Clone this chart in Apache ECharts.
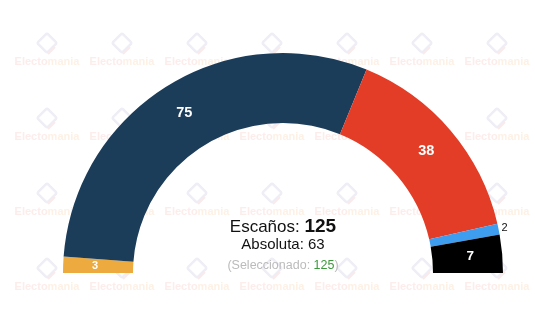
<!DOCTYPE html>
<html>
<head>
<meta charset="utf-8">
<script src="https://cdn.jsdelivr.net/npm/echarts@6/dist/echarts.min.js"></script>
<style>
html,body{margin:0;padding:0;background:#fff;}
#chart{width:535px;height:320px;}
</style>
</head>
<body>
<div id="chart"></div>
<script>
// Data
var parties = ['A', 'B', 'C', 'D', 'E'];
var seats = [3, 75, 38, 2, 7];
var colors = ['#EDAA3F', '#1C3D5A', '#E33C27', '#3F9DF0', '#000000'];
var labelSizes = [11, 14.5, 14.5, 11, 13.5];
var outsideLabel = [false, false, false, true, false];
var totalLabel = 'Escaños: ';
var absLabel = 'Absoluta: ';
var selLabel = 'Seleccionado: ';

var total = seats.reduce(function (a, b) { return a + b; }, 0);
var absoluta = Math.floor(total / 2) + 1;

var chart = echarts.init(document.getElementById('chart'), null, {renderer: 'canvas'});

// watermark tiles (decoration, below the chart)
var wm = [];
var wxs = [47, 122, 197, 272, 347, 422, 497];
var wys = [62, 137, 212, 287];
wys.forEach(function (y) {
  wxs.forEach(function (x) {
    wm.push({
      type: 'rect', zlevel: 0, z: 0, silent: true,
      x: x, y: y - 19, rotation: Math.PI / 4,
      shape: {x: -7, y: -7, width: 14, height: 14, r: 2},
      style: {fill: 'none', stroke: '#EFEDF5', lineWidth: 2.5}
    });
    wm.push({
      type: 'line', zlevel: 0, z: 0, silent: true,
      shape: {x1: x + 1, y1: y - 8, x2: x + 8, y2: y - 15},
      style: {stroke: '#FAEAEA', lineWidth: 2}
    });
    wm.push({
      type: 'text', zlevel: 0, z: 0, silent: true,
      x: x, y: y,
      style: {
        text: '{a|Electo}{b|mania}',
        align: 'center', verticalAlign: 'middle',
        rich: {
          a: {fill: '#FCEDEB', fontSize: 11, fontWeight: 'bold', fontFamily: 'Liberation Sans'},
          b: {fill: '#FDF1E6', fontSize: 11, fontWeight: 'bold', fontFamily: 'Liberation Sans'}
        }
      }
    });
  });
});

var data = seats.map(function (v, i) {
  var item = {
    name: parties[i], value: v,
    itemStyle: {color: colors[i]},
    label: {fontSize: labelSizes[i]}
  };
  if (outsideLabel[i]) {
    item.label = {
      position: 'outside', color: '#111', fontWeight: 'normal',
      fontSize: labelSizes[i], distanceToLabelLine: 0
    };
    item.labelLine = {show: false, length: 3, length2: 0};
  }
  return item;
});

chart.setOption({
  backgroundColor: '#ffffff',
  animation: false,
  series: [{
    type: 'pie',
    zlevel: 1,
    center: [283, 273],
    radius: [150, 220],
    startAngle: 180,
    endAngle: 0,
    clockwise: true,
    avoidLabelOverlap: false,
    silent: true,
    label: {
      show: true, position: 'inside',
      color: '#fff', fontWeight: 'bold',
      fontFamily: 'Liberation Sans',
      formatter: '{c}'
    },
    labelLine: {show: false},
    itemStyle: {borderWidth: 0},
    data: data
  }],
  graphic: wm.concat([
    {
      type: 'text', zlevel: 1, x: 283, y: 227,
      style: {
        text: '{n|' + totalLabel + '}{b|' + total + '}',
        align: 'center', verticalAlign: 'middle',
        rich: {
          n: {fill: '#111', fontSize: 17, fontFamily: 'Liberation Sans'},
          b: {fill: '#111', fontSize: 19, fontWeight: 'bold', fontFamily: 'Liberation Sans'}
        }
      }
    },
    {
      type: 'text', zlevel: 1, x: 283, y: 245,
      style: {
        text: absLabel + absoluta,
        align: 'center', verticalAlign: 'middle',
        fill: '#111', fontSize: 15, fontFamily: 'Liberation Sans'
      }
    },
    {
      type: 'text', zlevel: 1, x: 283, y: 266,
      style: {
        text: '{g|(' + selLabel + '}{v|' + total + '}{g|)}',
        align: 'center', verticalAlign: 'middle',
        rich: {
          g: {fill: '#BBBBBB', fontSize: 12.5, fontFamily: 'Liberation Sans'},
          v: {fill: '#3B9A3B', fontSize: 12.5, fontFamily: 'Liberation Sans'}
        }
      }
    }
  ])
});
</script>
</body>
</html>
